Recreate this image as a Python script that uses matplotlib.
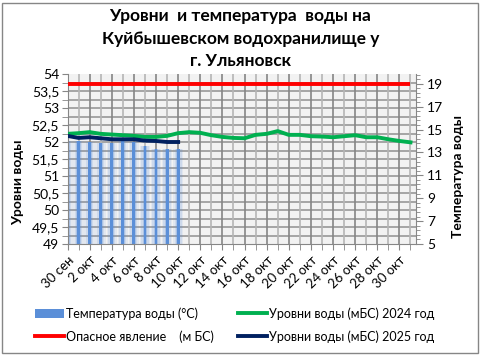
import numpy as np
import matplotlib
matplotlib.use("Agg")
from matplotlib import pyplot as plt
from matplotlib import transforms
from matplotlib.ticker import MultipleLocator, FixedLocator, FuncFormatter
from matplotlib.lines import Line2D
from matplotlib.patches import Patch, Rectangle

plt.rcParams['font.family'] = ['Lato', 'DejaVu Sans']

# days: 30 Sep .. 31 Oct
days = ['30 сен'] + ['%d окт' % d for d in range(1, 32)]
# water levels 2024 (m BS)
level_2024 = [52.24, 52.26, 52.29, 52.24, 52.22, 52.20, 52.18, 52.15, 52.15, 52.18,
              52.26, 52.29, 52.27, 52.20, 52.15, 52.12, 52.11, 52.21, 52.24, 52.32,
              52.21, 52.21, 52.17, 52.16, 52.14, 52.17, 52.20, 52.14, 52.14, 52.08,
              52.03, 51.99]
# water levels 2025 (m BS), data up to 10 Oct
level_2025 = [52.18, 52.12, 52.14, 52.11, 52.08, 52.08, 52.08, 52.04, 52.03, 52.00, 52.00]
# water temperature 2025 (C)
temp_2025 = [14.0, 14.0, 13.9, 13.8, 13.8, 14.0, 13.9, 13.6, 13.3, 13.3, 13.3]
danger_level = 53.72

x_all = np.arange(len(days))
x_25 = np.arange(len(level_2025))

fig = plt.figure(figsize=(4.81, 3.55), dpi=100)
rect = [67.5 / 481, 1 - 244 / 355, (415.7 - 67.5) / 481, 170 / 355]

# back axes: temperature (right scale), grid and bars
ax2 = fig.add_axes(rect)
ax2.set_facecolor('#f2f2f2')
ax2.set_xlim(0, 31.47)
ax2.set_ylim(5, 19.85)

# front axes: water levels (left scale)
ax = fig.add_axes(rect, sharex=ax2)
ax.patch.set_visible(False)
ax.set_ylim(49, 54)

# vertical gridlines
ax2.xaxis.set_major_locator(MultipleLocator(2))
ax2.xaxis.set_minor_locator(MultipleLocator(1))
ax2.grid(True, axis='x', which='major', color='#858585', lw=1.2, zorder=0)
ax2.grid(True, axis='x', which='minor', color='#b5b5b5', lw=1.2, zorder=0)
ax2.set_axisbelow(True)

# horizontal gridlines in level units
blend = transforms.blended_transform_factory(ax2.transAxes, ax.transData)
for yv in np.arange(49.25, 54.0, 0.25):
    ax2.plot([0, 1], [yv, yv], transform=blend, color='#8f8f8f', lw=1.1, zorder=0.5)

# temperature bars with soft gradient look
ax2.bar(x_25, np.array(temp_2025) - 5, bottom=5, width=0.95, color='#5b8fd8', alpha=0.10, zorder=1)
ax2.bar(x_25, np.array(temp_2025) - 5, bottom=5, width=0.65, color='#5b8fd8', alpha=0.15, zorder=1)
ax2.bar(x_25, np.array(temp_2025) - 5, bottom=5, width=0.38, color='#5b8fd8', alpha=0.30, zorder=1)
ax2.bar(x_25, np.array(temp_2025) - 5, bottom=5, width=0.26, color='#5b8fd8', zorder=2)

# lines
ax.plot(x_all, [danger_level] * len(days), color='#ff0000', lw=2.8, solid_capstyle='butt', zorder=3)
ax.plot(x_all, level_2024, color='#00b050', lw=2.8, zorder=3)
ax.plot(x_25, level_2025, color='#002060', lw=2.8, zorder=4)

# axes styling
for a in (ax, ax2):
    for s in a.spines.values():
        s.set_visible(False)
ax2.spines['bottom'].set_visible(True)
ax2.spines['bottom'].set_color('#868686')
ax.spines['left'].set_visible(True)
ax.spines['left'].set_color('#868686')
ax2.spines['right'].set_visible(True)
ax2.spines['right'].set_color('#868686')

ax.yaxis.set_major_locator(MultipleLocator(0.5))
ax.yaxis.set_minor_locator(MultipleLocator(0.25))
ax.yaxis.set_major_formatter(FuncFormatter(lambda v, p: ('%g' % v).replace('.', ',')))
ax.tick_params(axis='y', which='both', direction='out', length=4, color='#868686',
               labelsize=10, pad=2)
ax.tick_params(axis='x', which='both', bottom=False, labelbottom=False)

ax2.yaxis.tick_right()
ax2.yaxis.set_major_locator(FixedLocator(np.arange(5, 20, 2)))
ax2.yaxis.set_minor_locator(FixedLocator(np.arange(5, 19.9, 0.4)))
ax2.tick_params(axis='y', which='major', direction='out', length=5, color='#868686',
                labelsize=10, pad=3)
ax2.tick_params(axis='y', which='minor', direction='out', length=3, color='#868686')
ax2.tick_params(axis='x', which='both', direction='out', length=4, color='#868686')
ax2.set_xticks(x_all[::2])
ax2.set_xticklabels(days[::2], rotation=45, ha='right', va='top',
                    rotation_mode='anchor', fontsize=9.5)
ax2.tick_params(axis='x', which='major', pad=3)

# titles and axis labels
fig.text(0.5, 1 - 16 / 355, 'Уровни  и температура  воды на', ha='center', va='center',
         fontsize=12.5, fontweight='bold')
fig.text(0.5, 1 - 39 / 355, 'Куйбышевском водохранилище у', ha='center', va='center',
         fontsize=12.5, fontweight='bold')
fig.text(0.5, 1 - 61 / 355, 'г. Ульяновск', ha='center', va='center',
         fontsize=12.5, fontweight='bold')
fig.text(18 / 481, 1 - 182 / 355, 'Уровни воды', rotation=90, ha='center', va='center',
         fontsize=10, fontweight='bold')
fig.text(458 / 481, 1 - 176 / 355, 'Температура воды', rotation=90, ha='center', va='center',
         fontsize=10, fontweight='bold')

# legend
handles = [Patch(facecolor='#5b8fd8', edgecolor='none'),
           Line2D([], [], color='#ff0000', lw=2.8),
           Line2D([], [], color='#00b050', lw=2.8),
           Line2D([], [], color='#002060', lw=2.8)]
labels = ['Температура воды (°С)', 'Опасное явление    (м БС)',
          'Уровни воды (мБС) 2024 год', 'Уровни воды (мБС) 2025 год']
fig.legend(handles, labels, ncol=2, loc='upper left', bbox_to_anchor=(30 / 481, 1 - 302 / 355),
           frameon=False, fontsize=9, handlelength=2.3, handletextpad=0.2,
           labelspacing=0.85, columnspacing=1.9, borderaxespad=0)

# outer border
fig.patches.append(Rectangle((2 / 481, 2 / 355), 476 / 481, 350 / 355, transform=fig.transFigure,
                             fill=False, edgecolor='#868686', lw=1))

fig.savefig('out.png', dpi=100)
